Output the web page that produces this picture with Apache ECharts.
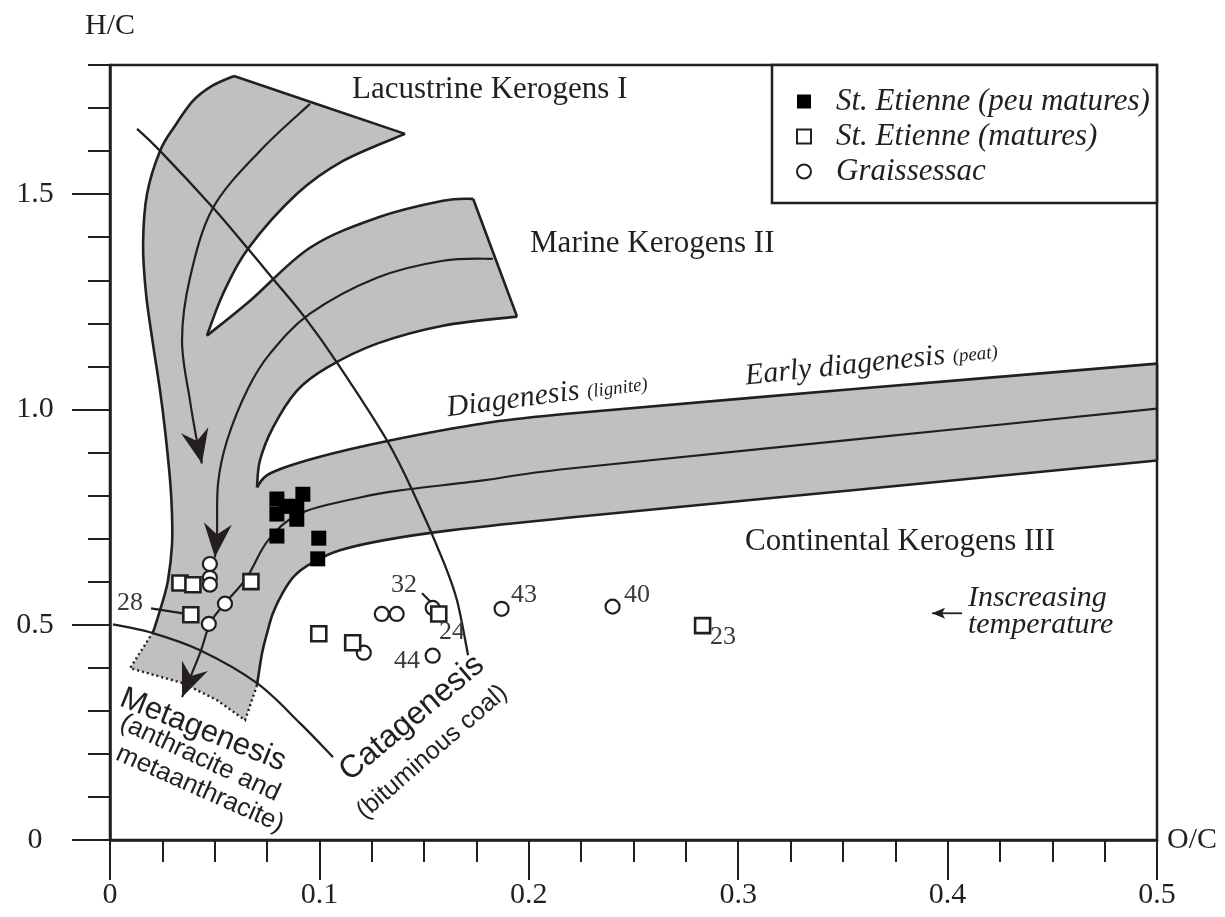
<!DOCTYPE html>
<html><head><meta charset="utf-8">
<script src="https://cdn.jsdelivr.net/npm/echarts@6/dist/echarts.min.js"></script>
<style>html,body{margin:0;padding:0;background:#fff}#c{width:1225px;height:917px}</style>
</head><body><div id="c"></div>
<script>
// ---------------- sample data (O/C, H/C) ----------------
const stEtiennePeuMatures = [[0.0797,0.792],[0.084,0.775],[0.0797,0.757],[0.0892,0.775],[0.0892,0.745],[0.0921,0.803],[0.0797,0.706],[0.0997,0.701],[0.0992,0.653]];
const stEtienneMatures = [[0.0334,0.597],[0.0396,0.593],[0.0673,0.600],[0.0386,0.523],[0.0997,0.479],[0.1159,0.458],[0.157,0.525],[0.283,0.498]];
const graissessac = [[0.0477,0.641],[0.0477,0.609],[0.0477,0.593],[0.0549,0.549],[0.0472,0.502],[0.1212,0.435],[0.1298,0.525],[0.1369,0.525],[0.1541,0.539],[0.1541,0.428],[0.187,0.537],[0.240,0.542]];
const seriesNames = ['St. Etienne (peu matures)','St. Etienne (matures)','Graissessac'];

// sample id labels
const sampleIds = ['28','32','24','44','43','40','23'];
const sampleIdPos = [[0.0096,0.5497],[0.1404,0.5915],[0.1633,0.4825],[0.1418,0.4152],[0.1977,0.5683],[0.2517,0.5683],[0.2927,0.4709]];
const leader28 = [[0.0196,0.5381],[0.0349,0.5265]];
const leader32 = [[0.1490,0.5729],[0.1538,0.5497]];

// ---------------- kerogen evolution band outline (O/C, H/C) ----------------
const typeIOuterEdge = [[0.0205,0.4825],[0.0215,0.4964],[0.0253,0.5567],[0.0277,0.6031],[0.0296,0.6843],[0.0296,0.7585],[0.0287,0.8351],[0.0263,0.9511],[0.0239,1.0438],[0.0205,1.1529],[0.0172,1.2688],[0.0158,1.3848],[0.0177,1.5008],[0.0239,1.6005],[0.0310,1.6585],[0.0396,1.7165],[0.0487,1.7513],[0.0592,1.7745]];
const typeITopEdge = [[0.0592,1.7745],[0.1409,1.6400]];
const typeIInnerEdge = [[0.1409,1.6400],[0.1113,1.5773],[0.0893,1.5008],[0.0659,1.3732],[0.0540,1.2688],[0.0463,1.1714]];
const typeIIUpperEdge = [[0.0463,1.1714],[0.0669,1.2526],[0.0955,1.3755],[0.1275,1.4451],[0.1590,1.4846],[0.1734,1.4892]];
const typeIIEndEdge = [[0.1734,1.4892],[0.1944,1.2155]];
const typeIILowerEdge = [[0.1944,1.2155],[0.1590,1.1946],[0.1275,1.1529],[0.1036,1.0972],[0.0893,1.0438],[0.0778,0.9580],[0.0716,0.8815],[0.0702,0.8188]];
const typeIIIUpperEdge = [[0.0702,0.8188],[0.0764,0.8513],[0.0989,0.8884],[0.1337,0.9279],[0.1781,0.9673],[0.2197,0.9905],[0.3582,1.0485],[0.5,1.1065]];
const typeIIIEndEdge = [[0.5,1.1065],[0.5,0.8815]];
const typeIIILowerEdge = [[0.5,0.8815],[0.3582,0.8142],[0.2197,0.7492],[0.1624,0.7191],[0.1304,0.6959],[0.1098,0.6727],[0.0969,0.6449],[0.0883,0.6147],[0.0826,0.5753],[0.0778,0.5266],[0.0750,0.4802],[0.0726,0.4338],[0.0702,0.3595]];
const metagenesisFront = [[0.0702,0.3595],[0.0645,0.2784],[0.0511,0.3248],[0.0349,0.3642],[0.0096,0.3990],[0.0205,0.4825]];

// evolution paths (centre lines)
const typeIPath = [[0.0955,1.7096],[0.0716,1.6005],[0.0492,1.4683],[0.0382,1.3059],[0.0344,1.1598],[0.0382,1.0206],[0.0415,0.9278],[0.0439,0.8745]];
const typeIIPath = [[0.1829,1.3500],[0.1590,1.3454],[0.1275,1.3060],[0.0955,1.2224],[0.0764,1.1297],[0.0659,1.0485],[0.0559,0.9278],[0.0516,0.8281],[0.0511,0.7121],[0.0501,0.6565]];
const typeIIIPath = [[0.5,1.0021],[0.3582,0.9315],[0.2197,0.8629],[0.1781,0.8351],[0.1385,0.8119],[0.1194,0.7956],[0.0907,0.7585],[0.0755,0.6959],[0.0654,0.6101],[0.0549,0.5497],[0.0478,0.5034],[0.0430,0.4338],[0.0344,0.3317]];

// maturation zone boundaries
const catagenesisLine = [[0.0129,1.6516],[0.0239,1.6005],[0.0492,1.4683],[0.0659,1.3732],[0.0778,1.3036],[0.0931,1.2132],[0.1084,1.1088],[0.1323,0.9278],[0.1466,0.7887],[0.1590,0.6495],[0.1657,0.5567],[0.1710,0.4291]];
const metagenesisLine = [[0.0014,0.5010],[0.0191,0.4825],[0.0430,0.4407],[0.0702,0.3642],[0.0907,0.2714],[0.1065,0.1925]];
const temperatureArrow = [[0.4069,0.5266],[0.3926,0.5266]];

// ---------------- annotations ----------------
const SERIF = '"Liberation Serif","Times New Roman",serif';
const SANS = '"Liberation Sans",Arial,sans-serif';
const INK = '#231f20';
const annotations = [
  {t:'Lacustrine Kerogens I', p:[0.1156,1.7420], f:SERIF, s:31, rot:0, al:'left'},
  {t:'Marine Kerogens II', p:[0.2006,1.3848], f:SERIF, s:31, rot:0, al:'left'},
  {t:'Continental Kerogens III', p:[0.3033,0.6913], f:SERIF, s:31, rot:0, al:'left'},
  {t:'{a|Diagenesis} {b|(lignite)}', p:[0.1609,1.0044], f:SERIF, s:30, rot:7.5, al:'left', rich:true},
  {t:'{a|Early diagenesis} {b|(peat)}', p:[0.3033,1.0786], f:SERIF, s:30, rot:6, al:'left', rich:true},
  {t:'Catagenesis', p:[0.1442,0.2830], f:SANS, s:32, rot:40, al:'center'},
  {t:'(bituminous coal)', p:[0.1538,0.2041], f:SANS, s:25, rot:41, al:'center'},
  {t:'Metagenesis', p:[0.0444,0.2552], f:SANS, s:31, rot:-22, al:'center'},
  {t:'(anthracite and', p:[0.0430,0.1902], f:SANS, s:26, rot:-25, al:'center'},
  {t:'metaanthracite)', p:[0.0430,0.1183], f:SANS, s:26, rot:-24, al:'center'},
  {t:'Inscreasing', p:[0.4097,0.5614], f:SERIF, s:30, rot:0, al:'left', it:true},
  {t:'temperature', p:[0.4097,0.4987], f:SERIF, s:30, rot:0, al:'left', it:true}
];

// ---------------- drawing helpers ----------------
function smoothPath(pts, start){
  let d = (start ? 'M' : 'L') + pts[0][0] + ' ' + pts[0][1];
  for (let i = 0; i < pts.length - 1; i++) {
    const p0 = pts[i-1] || pts[i], p1 = pts[i], p2 = pts[i+1], p3 = pts[i+2] || pts[i+1];
    const c1x = p1[0] + (p2[0]-p0[0])/6, c1y = p1[1] + (p2[1]-p0[1])/6;
    const c2x = p2[0] - (p3[0]-p1[0])/6, c2y = p2[1] - (p3[1]-p1[1])/6;
    d += ' C' + c1x + ' ' + c1y + ' ' + c2x + ' ' + c2y + ' ' + p2[0] + ' ' + p2[1];
  }
  return d;
}
function polyPath(pts, start){
  return pts.map((p,i) => ((i===0 && start) ? 'M' : 'L') + p[0] + ' ' + p[1]).join(' ');
}
function arrowHead(tip, from, L, W, N){
  const dx = tip[0]-from[0], dy = tip[1]-from[1], len = Math.hypot(dx,dy);
  const ux = dx/len, uy = dy/len, nx = -uy, ny = ux;
  const bx = tip[0]-ux*L, by = tip[1]-uy*L;
  return [tip, [bx+nx*W, by+ny*W], [tip[0]-ux*(L-N), tip[1]-uy*(L-N)], [bx-nx*W, by-ny*W]];
}

function renderShapes(params, api){
  const P = arr => arr.map(p => api.coord(p));
  const children = [];
  const smoothSegs = [typeIOuterEdge, typeITopEdge, typeIInnerEdge, typeIIUpperEdge, typeIIEndEdge, typeIILowerEdge, typeIIIUpperEdge, typeIIIEndEdge, typeIIILowerEdge];
  let fill = '';
  smoothSegs.forEach((s,i) => { fill += smoothPath(P(s), i===0) + ' '; });
  fill += polyPath(P(metagenesisFront), false) + ' Z';
  children.push({type:'path', shape:{pathData:fill}, style:{fill:'#c0c0c0', stroke:null}});
  smoothSegs.forEach(s => children.push({type:'path', shape:{pathData:smoothPath(P(s), true)}, style:{fill:null, stroke:INK, lineWidth:2.6, lineJoin:'round'}}));
  children.push({type:'path', shape:{pathData:polyPath(P(metagenesisFront), true)}, style:{fill:null, stroke:INK, lineWidth:2.4, lineDash:[2,3]}});
  [typeIPath, typeIIPath, typeIIIPath].forEach(s => {
    const px = P(s);
    children.push({type:'path', shape:{pathData:smoothPath(px, true)}, style:{fill:null, stroke:INK, lineWidth:2.2}});
    children.push({type:'polygon', shape:{points:arrowHead(px[px.length-1], px[px.length-2], 34, 14, 11)}, style:{fill:INK, stroke:null}});
  });
  [catagenesisLine, metagenesisLine].forEach(s => children.push({type:'path', shape:{pathData:smoothPath(P(s), true)}, style:{fill:null, stroke:INK, lineWidth:2.3}}));
  [leader28, leader32].forEach(s => children.push({type:'path', shape:{pathData:polyPath(P(s), true)}, style:{fill:null, stroke:INK, lineWidth:2.2}}));
  const ta = P(temperatureArrow);
  children.push({type:'path', shape:{pathData:polyPath(ta, true)}, style:{fill:null, stroke:INK, lineWidth:1.8}});
  children.push({type:'polygon', shape:{points:arrowHead(ta[1], ta[0], 13, 5.5, 3)}, style:{fill:INK, stroke:null}});
  return {type:'group', children};
}

function renderTexts(params, api){
  const children = [];
  annotations.forEach(a => {
    const c = api.coord(a.p);
    const style = {text:a.t, fontFamily:a.f, fontSize:a.s, fontStyle:a.it ? 'italic' : 'normal', fill:INK, align:a.al, verticalAlign:'middle'};
    if (a.rich) {
      style.rich = {
        a:{fontFamily:SERIF, fontSize:30, fontStyle:'italic', fill:INK, verticalAlign:'bottom', lineHeight:32},
        b:{fontFamily:SERIF, fontSize:19, fontStyle:'italic', fill:INK, verticalAlign:'bottom', lineHeight:32, padding:[0,0,3,0]}
      };
    }
    children.push({type:'text', x:c[0], y:c[1], rotation:a.rot*Math.PI/180, style});
  });
  sampleIds.forEach((t,i) => {
    const c = api.coord(sampleIdPos[i]);
    children.push({type:'text', x:c[0], y:c[1], style:{text:t, fontFamily:SERIF, fontSize:26, fill:'#3a3a3a', align:'center', verticalAlign:'middle'}});
  });
  return {type:'group', children};
}

const chart = echarts.init(document.getElementById('c'), null, {renderer:'canvas'});
const gridTop = 65, gridBottom = 77, H = 917;
const yMax = 1.8, yMajorMax = 1.5;
const plotH = H - gridTop - gridBottom;
const squareIcon = 'path://M0 0H10V10H0Z';

const option = {
  animation:false,
  backgroundColor:'#fff',
  grid:[
    {left:110, right:68, top:gridTop, bottom:gridBottom, show:true, borderColor:INK, borderWidth:2.5, backgroundColor:'transparent'},
    {left:110, right:68, top:H - gridBottom - plotH*yMajorMax/yMax, bottom:gridBottom, show:false}
  ],
  xAxis:[
    {type:'value', gridIndex:0, min:0, max:0.5, interval:0.1,
     axisLine:{show:true, lineStyle:{color:INK, width:2.5}},
     axisTick:{show:true, length:40, lineStyle:{color:INK, width:2}},
     minorTick:{show:true, splitNumber:4, length:22, lineStyle:{color:INK, width:2}},
     axisLabel:{fontFamily:SERIF, fontSize:30, color:INK, margin:40, formatter:v => v===0 ? '0' : v.toFixed(1)},
     splitLine:{show:false}, minorSplitLine:{show:false},
     name:'O/C', nameLocation:'end', nameGap:10,
     nameTextStyle:{fontFamily:SERIF, fontSize:30, color:INK, align:'left', verticalAlign:'middle'}},
    {type:'value', gridIndex:1, min:0, max:0.5, show:false}
  ],
  yAxis:[
    {type:'value', gridIndex:0, min:0, max:yMax, interval:0.1,
     axisLine:{show:true, lineStyle:{color:INK, width:2.5}},
     axisTick:{show:true, length:22, lineStyle:{color:INK, width:2}},
     axisLabel:{show:false}, splitLine:{show:false},
     name:'H/C', nameLocation:'end', nameGap:24,
     nameTextStyle:{fontFamily:SERIF, fontSize:30, color:INK, align:'center'}},
    {type:'value', gridIndex:1, min:0, max:yMajorMax, interval:0.5,
     axisLine:{show:false},
     axisTick:{show:true, length:38, lineStyle:{color:INK, width:2.2}},
     axisLabel:{fontFamily:SERIF, fontSize:30, color:INK, margin:75, align:'center', formatter:v => v===0 ? '0' : v.toFixed(1)},
     splitLine:{show:false}}
  ],
  legend:{
    orient:'vertical', left:772, top:65, padding:[21,7,16,24],
    backgroundColor:'#fff', borderColor:INK, borderWidth:2.5, borderRadius:0,
    itemWidth:14, itemHeight:14, itemGap:4, selectedMode:false,
    textStyle:{fontFamily:SERIF, fontStyle:'italic', fontSize:31, color:INK, lineHeight:30, padding:[0,0,0,20]},
    data:[{name:seriesNames[0], icon:squareIcon},{name:seriesNames[1], icon:squareIcon},{name:seriesNames[2], icon:'circle'}]
  },
  series:[
    {type:'custom', name:'bands', xAxisIndex:0, yAxisIndex:0, data:[[0,0]], renderItem:renderShapes, silent:true, z:1},
    {type:'scatter', name:seriesNames[2], data:graissessac, symbol:'circle', symbolSize:14,
     itemStyle:{color:'#fff', borderColor:INK, borderWidth:2.2, opacity:1}, z:3},
    {type:'scatter', name:seriesNames[1], data:stEtienneMatures, symbol:'rect', symbolSize:15,
     itemStyle:{color:'#fff', borderColor:INK, borderWidth:2.6, opacity:1}, z:4},
    {type:'scatter', name:seriesNames[0], data:stEtiennePeuMatures, symbol:'rect', symbolSize:15,
     itemStyle:{color:'#000', borderColor:'#000', borderWidth:0, opacity:1}, z:5},
    {type:'custom', name:'labels', xAxisIndex:0, yAxisIndex:0, data:[[0,0]], renderItem:renderTexts, silent:true, z:6}
  ]
};
chart.setOption(option);
</script>
</body></html>
